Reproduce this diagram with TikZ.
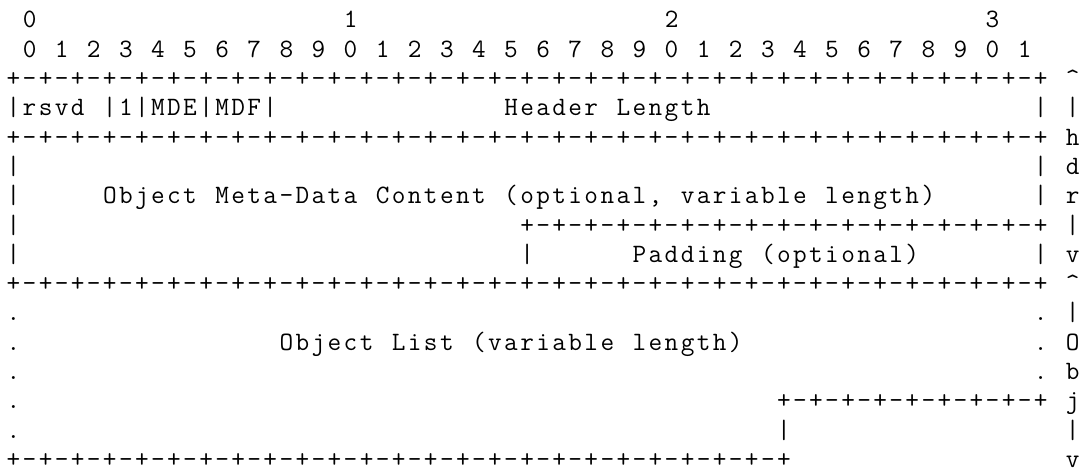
\documentclass[tikz,border=0pt]{standalone}
\usepackage{fontspec}
\newcommand\pmrun{+-+-+-+-+-+-+-+-}
\newcommand\fullrule{\pmrun\pmrun\pmrun\pmrun+}
\newcommand\halfrule{\pmrun\pmrun+}
\ExplSyntaxOn
\dim_new:N \l_asc_col_dim
\dim_set:Nn \l_asc_col_dim {16.05pt}
\NewDocumentCommand\seg{mm}{\makebox[0pt][l]{\hspace*{\dim_eval:n{#1\l_asc_col_dim}}\exp_args:Ne\str_map_inline:nn{#2}{\makebox[\l_asc_col_dim][c]{##1}}}}
\ExplSyntaxOff
\tikzset{asciirow/.style={anchor=base west,inner sep=0pt,outer sep=0pt,font=\ttfamily\fontsize{26.5pt}{29.3pt}\selectfont}}
\begin{document}
\begin{tikzpicture}[x=1pt,y=-1pt]
\fill[white] (0,0) rectangle (1082,470);
\useasboundingbox (0,0) rectangle (1082,470);
\node[asciirow] (r0)  at (5,28)    {\seg{1}{0}\seg{21}{1}\seg{41}{2}\seg{61}{3}};
\node[asciirow] (r1)  at (5,57.3)  {\seg{1}{0 1 2 3 4 5 6 7 8 9 0 1 2 3 4 5 6 7 8 9 0 1 2 3 4 5 6 7 8 9 0 1}};
\node[asciirow] (r2)  at (5,86.6)  {\seg{0}{\fullrule}\seg{66}{^}};
\node[asciirow] (r3)  at (5,115.9) {\seg{0}{|rsvd |1|MDE|MDF|}\seg{31}{Header Length}\seg{64}{| |}};
\node[asciirow] (r4)  at (5,145.2) {\seg{0}{\fullrule}\seg{66}{h}};
\node[asciirow] (r5)  at (5,174.5) {\seg{0}{|}\seg{64}{| d}};
\node[asciirow] (r6)  at (5,203.8) {\seg{0}{|}\seg{6}{Object Meta-Data Content (optional, variable length)}\seg{64}{| r}};
\node[asciirow] (r7)  at (5,233.1) {\seg{0}{|}\seg{32}{\halfrule}\seg{66}{|}};
\node[asciirow] (r8)  at (5,262.4) {\seg{0}{|}\seg{32}{|}\seg{39}{Padding (optional)}\seg{64}{| v}};
\node[asciirow] (r9)  at (5,291.7) {\seg{0}{\fullrule}\seg{66}{^}};
\node[asciirow] (r10) at (5,321.0) {\seg{0}{.}\seg{64}{. |}};
\node[asciirow] (r11) at (5,350.3) {\seg{0}{.}\seg{17}{Object List (variable length)}\seg{64}{. O}};
\node[asciirow] (r12) at (5,379.6) {\seg{0}{.}\seg{64}{. b}};
\node[asciirow] (r13) at (5,408.9) {\seg{0}{.}\seg{48}{\pmrun+}\seg{66}{j}};
\node[asciirow] (r14) at (5,438.2) {\seg{0}{.}\seg{48}{|}\seg{66}{|}};
\node[asciirow] (r15) at (5,467.5) {\seg{0}{\pmrun\pmrun\pmrun+}\seg{66}{v}};
\end{tikzpicture}
\end{document}
